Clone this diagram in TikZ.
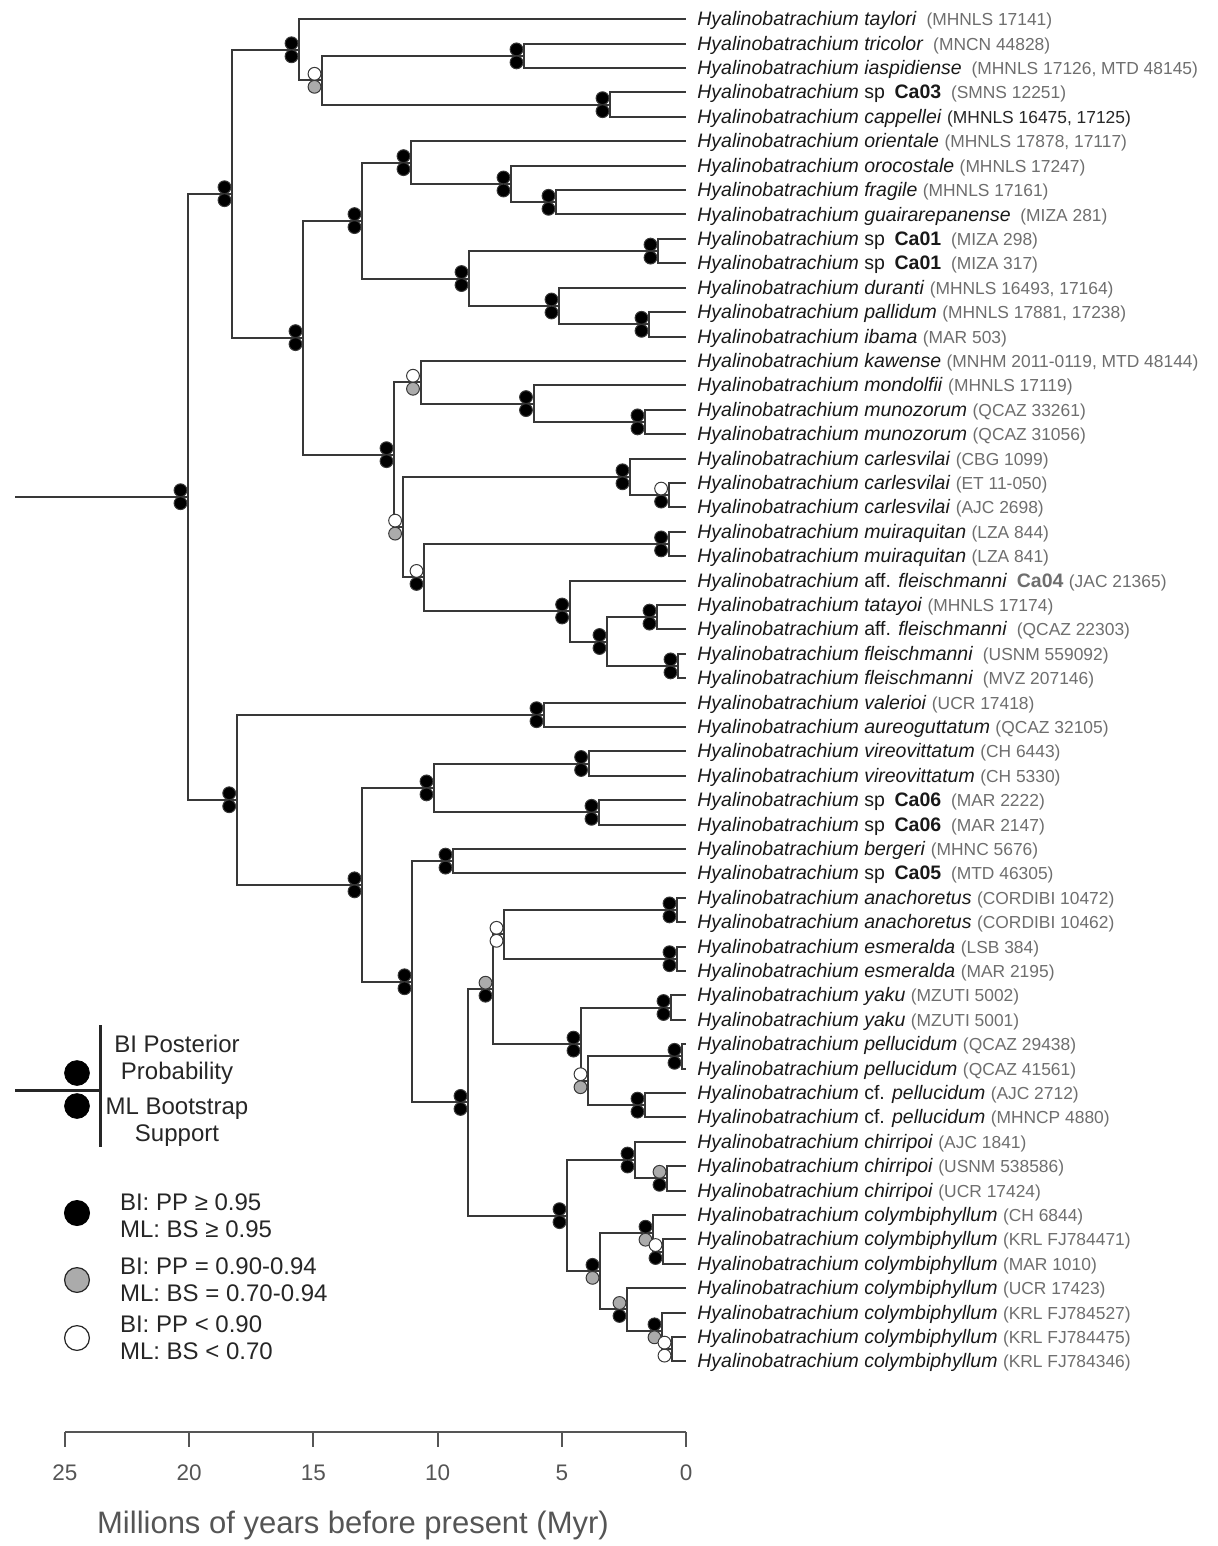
\documentclass[tikz,border=0pt]{standalone}
\usepackage{fontspec}
\setmainfont{Liberation Sans}
\usetikzlibrary{calc}
\definecolor{branchgray}{HTML}{383838}
\definecolor{codegray}{HTML}{6E6E6E}
\definecolor{ppgray}{HTML}{ABABAB}
\definecolor{axgray}{HTML}{555555}

\newcommand{\hy}{\textit{Hyalinobatrachium}}
\newcommand{\cod}[1]{{\fontsize{8.7}{11}\selectfont\color{codegray}(#1)}}
% y of a tip (or of an internal node given the mean tip index)
\newcommand{\ty}[1]{19.3+24.4*(#1-1)}
% two support circles left of a node: BI on top, ML below
\newcommand{\supp}[3]{%
  \filldraw[fill=#2, draw=branchgray, line width=0.5pt] ($(#1)+(-7.5,-6.5)$) circle[radius=3.2pt];
  \filldraw[fill=#3, draw=branchgray, line width=0.5pt] ($(#1)+(-7.5,6.5)$) circle[radius=3.2pt];}

\begin{document}
\begin{tikzpicture}[x=0.5pt,y=-0.5pt,
  branch/.style={draw=branchgray, line width=1pt},
  tiplab/.style={anchor=base west, inner sep=0pt, font=\fontsize{9.75}{11}\selectfont, text=black!90},
  legtext/.style={font=\fontsize{12}{13.5}\selectfont, text=black!85},
  axlab/.style={font=\fontsize{11.25}{13}\selectfont, text=axgray}]
\useasboundingbox (0,0) rectangle (1217,1546);

% tips and labels
\foreach \i/\lab in {
  1/{\textit{taylori}\enskip\cod{MHNLS 17141}},
  2/{\textit{tricolor}\enskip\cod{MNCN 44828}},
  3/{\textit{iaspidiense}\enskip\cod{MHNLS 17126, MTD 48145}},
  4/{sp\enskip\textbf{Ca03}\enskip\cod{SMNS 12251}},
  5/{\textit{cappellei} {\fontsize{8.7}{11}\selectfont\color{black!85}(MHNLS 16475, 17125)}},
  6/{\textit{orientale} \cod{MHNLS 17878, 17117}},
  7/{\textit{orocostale} \cod{MHNLS 17247}},
  8/{\textit{fragile} \cod{MHNLS 17161}},
  9/{\textit{guairarepanense}\enskip\cod{MIZA 281}},
  10/{sp\enskip\textbf{Ca01}\enskip\cod{MIZA 298}},
  11/{sp\enskip\textbf{Ca01}\enskip\cod{MIZA 317}},
  12/{\textit{duranti} \cod{MHNLS 16493, 17164}},
  13/{\textit{pallidum} \cod{MHNLS 17881, 17238}},
  14/{\textit{ibama} \cod{MAR 503}},
  15/{\textit{kawense} \cod{MNHM 2011-0119, MTD 48144}},
  16/{\textit{mondolfii} \cod{MHNLS 17119}},
  17/{\textit{munozorum} \cod{QCAZ 33261}},
  18/{\textit{munozorum} \cod{QCAZ 31056}},
  19/{\textit{carlesvilai} \cod{CBG 1099}},
  20/{\textit{carlesvilai} \cod{ET 11-050}},
  21/{\textit{carlesvilai} \cod{AJC 2698}},
  22/{\textit{muiraquitan} \cod{LZA 844}},
  23/{\textit{muiraquitan} \cod{LZA 841}},
  24/{aff. \textit{fleischmanni}\enskip{\color{codegray}\textbf{Ca04}} \cod{JAC 21365}},
  25/{\textit{tatayoi} \cod{MHNLS 17174}},
  26/{aff. \textit{fleischmanni}\enskip\cod{QCAZ 22303}},
  27/{\textit{fleischmanni}\enskip\cod{USNM 559092}},
  28/{\textit{fleischmanni}\enskip\cod{MVZ 207146}},
  29/{\textit{valerioi} \cod{UCR 17418}},
  30/{\textit{aureoguttatum} \cod{QCAZ 32105}},
  31/{\textit{vireovittatum} \cod{CH 6443}},
  32/{\textit{vireovittatum} \cod{CH 5330}},
  33/{sp\enskip\textbf{Ca06}\enskip\cod{MAR 2222}},
  34/{sp\enskip\textbf{Ca06}\enskip\cod{MAR 2147}},
  35/{\textit{bergeri} \cod{MHNC 5676}},
  36/{sp\enskip\textbf{Ca05}\enskip\cod{MTD 46305}},
  37/{\textit{anachoretus} \cod{CORDIBI 10472}},
  38/{\textit{anachoretus} \cod{CORDIBI 10462}},
  39/{\textit{esmeralda} \cod{LSB 384}},
  40/{\textit{esmeralda} \cod{MAR 2195}},
  41/{\textit{yaku} \cod{MZUTI 5002}},
  42/{\textit{yaku} \cod{MZUTI 5001}},
  43/{\textit{pellucidum} \cod{QCAZ 29438}},
  44/{\textit{pellucidum} \cod{QCAZ 41561}},
  45/{cf. \textit{pellucidum} \cod{AJC 2712}},
  46/{cf. \textit{pellucidum} \cod{MHNCP 4880}},
  47/{\textit{chirripoi} \cod{AJC 1841}},
  48/{\textit{chirripoi} \cod{USNM 538586}},
  49/{\textit{chirripoi} \cod{UCR 17424}},
  50/{\textit{colymbiphyllum} \cod{CH 6844}},
  51/{\textit{colymbiphyllum} \cod{KRL FJ784471}},
  52/{\textit{colymbiphyllum} \cod{MAR 1010}},
  53/{\textit{colymbiphyllum} \cod{UCR 17423}},
  54/{\textit{colymbiphyllum} \cod{KRL FJ784527}},
  55/{\textit{colymbiphyllum} \cod{KRL FJ784475}},
  56/{\textit{colymbiphyllum} \cod{KRL FJ784346}}}{
  \coordinate (t\i) at (686,{\ty{\i}});
  \node[tiplab] (l\i) at (697,{\ty{\i}+6.5}) {\hy\ \lab};
}

% internal nodes (x in px, y from mean tip index)
\coordinate (root) at (188,{\ty{20.567}});
\coordinate (stem) at (15,{\ty{20.567}});
\coordinate (top) at (232,{\ty{8.1484}});
\coordinate (nA) at (299,{\ty{2.25}});
\coordinate (nC) at (322,{\ty{3.5}});
\coordinate (nB) at (524,{\ty{2.5}});
\coordinate (nD) at (610,{\ty{4.5}});
\coordinate (nT2) at (303,{\ty{14.0469}});
\coordinate (nEI) at (362,{\ty{9.25}});
\coordinate (nE) at (411,{\ty{6.875}});
\coordinate (nF) at (511,{\ty{7.75}});
\coordinate (nG) at (556,{\ty{8.5}});
\coordinate (nI) at (469,{\ty{11.625}});
\coordinate (nH) at (658,{\ty{10.5}});
\coordinate (nJ) at (559,{\ty{12.75}});
\coordinate (nK) at (649,{\ty{13.5}});
\coordinate (nP) at (394,{\ty{18.8438}});
\coordinate (nL) at (420.5,{\ty{15.875}});
\coordinate (nM) at (533.5,{\ty{16.75}});
\coordinate (nN) at (645,{\ty{17.5}});
\coordinate (nQ) at (402.6,{\ty{21.8125}});
\coordinate (nR) at (630,{\ty{19.75}});
\coordinate (nS) at (668.6,{\ty{20.5}});
\coordinate (nTT) at (424,{\ty{23.875}});
\coordinate (nV) at (668.6,{\ty{22.5}});
\coordinate (nU) at (569.6,{\ty{25.25}});
\coordinate (nW) at (607,{\ty{26.5}});
\coordinate (nX) at (657,{\ty{25.5}});
\coordinate (nY) at (678,{\ty{27.5}});
\coordinate (bot) at (236.7,{\ty{32.986}});
\coordinate (nZ) at (544,{\ty{29.5}});
\coordinate (b2) at (362,{\ty{36.4727}});
\coordinate (b3) at (434,{\ty{32.5}});
\coordinate (vir) at (588.6,{\ty{31.5}});
\coordinate (ca6) at (599,{\ty{33.5}});
\coordinate (b4) at (412,{\ty{40.4453}});
\coordinate (b5) at (453,{\ty{35.5}});
\coordinate (b6) at (468,{\ty{45.3906}});
\coordinate (b7) at (493,{\ty{40.75}});
\coordinate (b9) at (504,{\ty{38.5}});
\coordinate (ana) at (677,{\ty{37.5}});
\coordinate (esm) at (677,{\ty{39.5}});
\coordinate (b10) at (581,{\ty{43}});
\coordinate (yak) at (671,{\ty{41.5}});
\coordinate (b11) at (588,{\ty{44.5}});
\coordinate (pel) at (682,{\ty{43.5}});
\coordinate (cfp) at (645,{\ty{45.5}});
\coordinate (b8) at (567,{\ty{50.0313}});
\coordinate (chi) at (635,{\ty{47.75}});
\coordinate (chi2) at (667,{\ty{48.5}});
\coordinate (col) at (600,{\ty{52.3125}});
\coordinate (col1) at (653,{\ty{50.75}});
\coordinate (col1b) at (663,{\ty{51.5}});
\coordinate (col2) at (627,{\ty{53.875}});
\coordinate (col2b) at (662,{\ty{54.75}});
\coordinate (col2c) at (672,{\ty{55.5}});

% branches
\draw[branch] (stem) -- (root);
\foreach \p/\c in {root/top, root/bot, top/nA, top/nT2, nA/t1, nA/nC,
  nC/nB, nC/nD, nB/t2, nB/t3, nD/t4, nD/t5, nT2/nEI, nT2/nP,
  nEI/nE, nEI/nI, nE/t6, nE/nF, nF/t7, nF/nG, nG/t8, nG/t9,
  nI/nH, nI/nJ, nH/t10, nH/t11, nJ/t12, nJ/nK, nK/t13, nK/t14,
  nP/nL, nP/nQ, nL/t15, nL/nM, nM/t16, nM/nN, nN/t17, nN/t18,
  nQ/nR, nQ/nTT, nR/t19, nR/nS, nS/t20, nS/t21,
  nTT/nV, nTT/nU, nV/t22, nV/t23, nU/t24, nU/nW,
  nW/nX, nW/nY, nX/t25, nX/t26, nY/t27, nY/t28,
  bot/nZ, bot/b2, nZ/t29, nZ/t30,
  b2/b3, b2/b4, b3/vir, b3/ca6, vir/t31, vir/t32, ca6/t33, ca6/t34,
  b4/b5, b4/b6, b5/t35, b5/t36, b6/b7, b6/b8,
  b7/b9, b7/b10, b9/ana, b9/esm, ana/t37, ana/t38, esm/t39, esm/t40,
  b10/yak, b10/b11, yak/t41, yak/t42, b11/pel, b11/cfp,
  pel/t43, pel/t44, cfp/t45, cfp/t46,
  b8/chi, b8/col, chi/t47, chi/chi2, chi2/t48, chi2/t49,
  col/col1, col/col2, col1/t50, col1/col1b, col1b/t51, col1b/t52,
  col2/t53, col2/col2b, col2b/t54, col2b/col2c, col2c/t55, col2c/t56}
  \draw[branch] (\p) |- (\c);

% support values
\foreach \n/\u/\d in {root/black/black, top/black/black, nA/black/black,
  nC/white/ppgray, nB/black/black, nD/black/black, nT2/black/black,
  nEI/black/black, nE/black/black, nF/black/black, nG/black/black,
  nI/black/black, nH/black/black, nJ/black/black, nK/black/black,
  nP/black/black, nL/white/ppgray, nM/black/black, nN/black/black,
  nQ/white/ppgray, nR/black/black, nS/white/black, nTT/white/black,
  nV/black/black, nU/black/black, nW/black/black, nX/black/black,
  nY/black/black, bot/black/black, nZ/black/black, b2/black/black,
  b3/black/black, vir/black/black, ca6/black/black, b4/black/black,
  b5/black/black, b6/black/black, b7/ppgray/black, b9/white/white,
  ana/black/black, esm/black/black, b10/black/black, yak/black/black,
  b11/white/ppgray, pel/black/black, cfp/black/black, b8/black/black,
  chi/black/black, chi2/ppgray/black, col/black/ppgray,
  col1/black/ppgray, col1b/white/black, col2/ppgray/black,
  col2b/black/ppgray, col2c/white/white}
  \supp{\n}{\u}{\d};

% legend
\coordinate (lgtop) at (100,1025);
\coordinate (lgbot) at (100,1147);
\coordinate (lgstem) at (15,1090);
\coordinate (lgnode) at (100,1090);
\draw[line width=1.5pt, draw=black!85] (lgtop) -- (lgbot);
\draw[line width=1.5pt, draw=black!85] (lgstem) -- (lgnode);
\filldraw[fill=black, draw=black] (77,1073) circle[radius=6.2pt];
\filldraw[fill=black, draw=black] (77,1106) circle[radius=6.2pt];
\node[legtext, align=center] (lgpp) at (177,1060) {BI Posterior\\Probability};
\node[legtext, align=center] (lgbs) at (177,1122) {ML Bootstrap\\Support};

\filldraw[fill=black, draw=black, line width=0.6pt] (77,1213) circle[radius=6.2pt];
\filldraw[fill=ppgray, draw=black!85, line width=0.6pt] (77,1280) circle[radius=6.2pt];
\filldraw[fill=white, draw=black!85, line width=0.6pt] (77,1338) circle[radius=6.2pt];
\node[legtext, align=left, anchor=west] (lgblack) at (113,1216) {BI: PP ≥ 0.95\\ML: BS ≥ 0.95};
\node[legtext, align=left, anchor=west] (lggray) at (113,1280) {BI: PP = 0.90-0.94\\ML: BS = 0.70-0.94};
\node[legtext, align=left, anchor=west] (lgwhite) at (113,1338) {BI: PP < 0.90\\ML: BS < 0.70};

% time axis
\coordinate (ax25) at (65,1432);
\coordinate (ax0) at (686,1432);
\draw[line width=1pt, draw=axgray] (ax25) -- (ax0);
\foreach \v in {0,5,10,15,20,25} {
  \draw[line width=1pt, draw=axgray] ({686-24.84*\v},1432) -- ++(0,15);
  \node[axlab] (tk\v) at ({686-24.84*\v},1473) {\v};
}
\node[font=\fontsize{15.5}{18}\selectfont, text=axgray] (xtitle) at (353,1525) {Millions of years before present (Myr)};
\end{tikzpicture}
\end{document}
